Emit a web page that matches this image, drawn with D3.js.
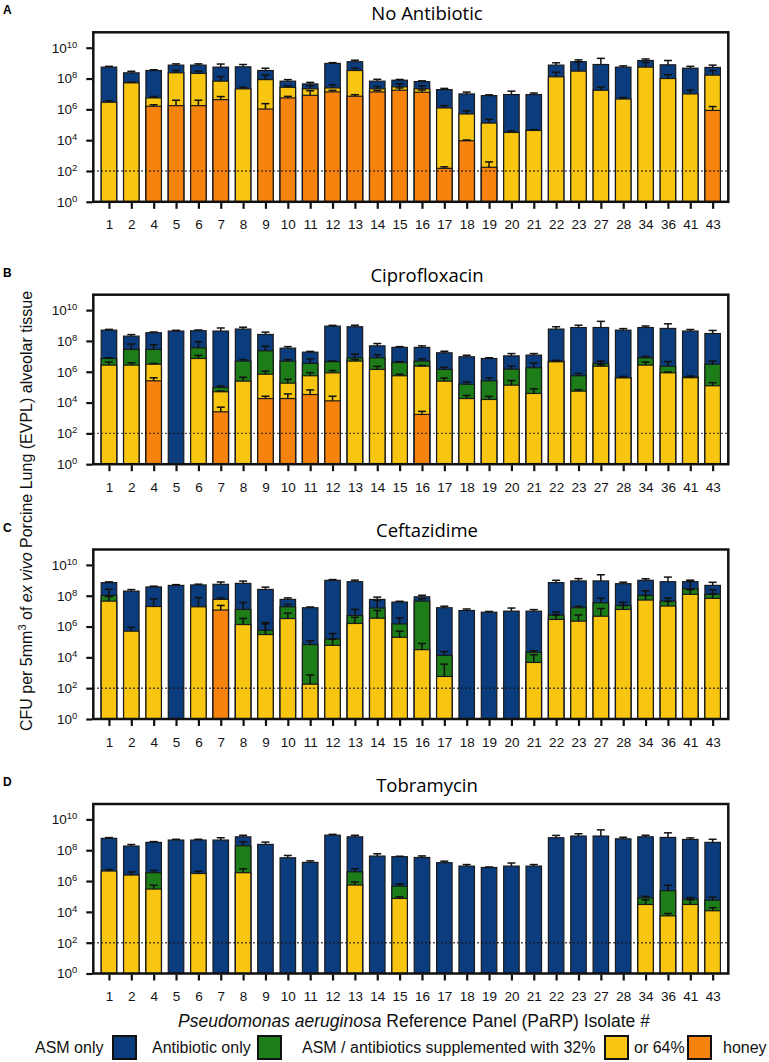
<!DOCTYPE html>
<html>
<head>
<meta charset="utf-8">
<script src="https://cdnjs.cloudflare.com/ajax/libs/d3/7.8.5/d3.min.js"></script>
<style>
  body { margin: 0; background: #fff; }
  svg { font-family: "Liberation Sans", Arial, sans-serif; }
</style>
</head>
<body>
<div id="chart"></div>
<script>
// isolates along x
var isolates = ["1","2","4","5","6","7","8","9","10","11","12","13","14","15","16","17","18","19","20","21","22","23","27","28","34","36","41","43"];

// values are log10(CFU); null = no bar. err = upper whisker length in log10 units

// A - no antibiotic
var asmA  = [8.74,8.37,8.52,8.87,8.87,8.74,8.76,8.52,7.83,7.65,8.98,9.09,7.83,7.89,7.80,7.28,7.00,6.89,6.96,6.96,8.87,9.09,8.91,8.74,9.17,8.89,8.67,8.72];
var h32A  = [6.46,7.72,6.74,8.37,8.33,7.83,7.33,7.93,7.43,7.33,7.39,8.52,7.33,7.46,7.33,6.09,5.70,5.11,4.50,4.63,8.11,8.48,7.24,6.67,8.74,8.00,7.00,8.22];
var h64A  = [null,null,6.20,6.24,6.24,6.63,null,6.02,6.74,6.91,7.13,6.85,7.13,7.24,7.11,2.17,3.96,2.24,null,null,null,null,null,null,null,null,null,5.93];
var asmErrA = [0.05,0.1,0.05,0.08,0.08,0.2,0.15,0.15,0.1,0.1,0.05,0.1,0.12,0.05,0.05,0.08,0.12,0.05,0.22,0.1,0.15,0.12,0.4,0.08,0.1,0.28,0.12,0.15];
var h32ErrA = [0.1,0.05,0.1,0.15,0.15,0.3,0.1,0.3,0.1,0.2,0.2,0.15,0.15,0.2,0.2,0.15,0.2,0.25,0.1,0.05,0.3,0.6,0.2,0.1,0.3,0.25,0.25,0.3];
var h64ErrA = [0,0,0.1,0.35,0.35,0.2,0,0.35,0.1,0.3,0.1,0.1,0.1,0.15,0.15,0.1,0.05,0.35,0,0,0,0,0,0,0,0,0,0.25];

// B - ciprofloxacin
var asmB  = [8.70,8.31,8.53,8.64,8.66,8.64,8.77,8.42,7.53,7.27,8.96,8.92,7.68,7.58,7.58,7.23,6.97,6.86,7.03,7.08,8.77,8.87,8.87,8.70,8.87,8.81,8.64,8.48];
var abxB  = [6.86,7.45,7.45,null,7.55,4.98,6.69,7.36,6.69,6.54,6.65,6.90,6.90,6.60,6.69,6.15,5.19,5.41,6.17,6.26,6.69,5.74,6.54,5.62,6.90,6.36,5.67,6.49];
var h32B  = [6.43,6.43,6.49,null,6.86,4.70,5.39,5.84,5.26,5.74,5.93,6.69,6.15,5.74,6.36,5.39,4.26,4.20,5.13,4.59,6.65,4.74,6.36,5.60,6.43,5.93,5.61,5.09];
var h64B  = [null,null,5.41,null,null,3.40,null,4.26,4.26,4.52,4.11,null,null,null,3.23,null,null,null,null,null,null,null,null,null,null,null,null,null];
var asmErrB = [0.05,0.1,0.05,0.05,0.05,0.2,0.12,0.15,0.1,0.05,0.05,0.1,0.15,0.05,0.1,0.1,0.1,0.05,0.15,0.1,0.15,0.15,0.4,0.1,0.1,0.3,0.1,0.2];
var abxErrB = [0.05,0.35,0.3,0,0.4,0.1,0.1,0.3,0.1,0.3,0.05,0.25,0.2,0.05,0.15,0.15,0.15,0.2,0.2,0.3,0.05,0.15,0.15,0.05,0.1,0.3,0.05,0.2];
var h32ErrB = [0.2,0.15,0.05,0,0.2,0.05,0.25,0.2,0.25,0.2,0.15,0.1,0.2,0.1,0.05,0.2,0.2,0.2,0.3,0.3,0.05,0.1,0.1,0.1,0.2,0.05,0.05,0.2];
var h64ErrB = [0,0,0.2,0,0,0.3,0,0.15,0.3,0.3,0.3,0,0,0,0.2,0,0,0,0,0,0,0,0,0,0,0,0,0];

// C - ceftazidime
var asmC  = [8.85,8.30,8.57,8.67,8.70,8.74,8.80,8.41,7.76,7.22,9.00,8.91,7.76,7.59,7.93,7.22,7.04,6.93,7.00,7.00,8.85,8.96,8.96,8.78,9.00,8.91,8.91,8.67];
var abxC  = [8.02,null,null,null,null,null,7.11,5.76,7.28,4.83,5.20,6.72,7.20,6.17,7.65,4.13,null,null,null,4.33,6.74,7.22,7.54,7.37,8.02,7.65,8.46,8.09];
var h32C  = [7.65,5.70,7.30,null,7.28,7.76,6.13,5.48,6.52,2.26,4.78,6.20,6.54,5.30,4.50,2.76,null,null,null,3.67,6.46,6.35,6.67,7.11,7.72,7.33,8.09,7.83];
var h64C  = [null,null,null,null,null,7.07,null,null,null,null,null,null,null,null,null,null,null,null,null,null,null,null,null,null,null,null,null,null];
var asmErrC = [0.05,0.1,0.05,0.05,0.05,0.15,0.15,0.15,0.1,0.05,0.05,0.1,0.15,0.05,0.1,0.1,0.1,0.05,0.2,0.1,0.15,0.15,0.4,0.1,0.1,0.3,0.1,0.2];
var abxErrC = [0.4,0,0,0,0,0,0.45,0.5,0.15,0.25,0.35,0.4,0.5,0.4,0.15,0.25,0,0,0,0.1,0.2,0.1,0.3,0.2,0.3,0.2,0.5,0.3];
var h32ErrC = [0.3,0.25,0.5,0,0.6,0.1,0.4,0.7,0.35,0.6,0.4,0.4,0.5,0.4,0.4,0.8,0,0,0,0.5,0.3,0.4,0.5,0.25,0.3,0.3,0.3,0.3];
var h64ErrC = [0,0,0,0,0,0.3,0,0,0,0,0,0,0,0,0,0,0,0,0,0,0,0,0,0,0,0,0,0];

// D - tobramycin
var asmD  = [8.77,8.27,8.51,8.66,8.66,8.66,8.87,8.38,7.51,7.21,8.98,8.87,7.62,7.58,7.53,7.19,6.97,6.88,6.97,6.97,8.81,8.92,8.92,8.74,8.87,8.83,8.70,8.51];
var abxD  = [null,null,6.54,null,null,null,8.29,null,null,null,null,6.60,null,5.67,null,null,null,null,null,null,null,null,null,null,4.91,5.37,4.83,4.76];
var h32D  = [6.65,6.39,5.48,null,6.49,null,6.54,null,null,null,null,5.74,null,4.87,null,null,null,null,null,null,null,null,null,null,4.48,3.74,4.48,4.07];
var asmErrD = [0.05,0.1,0.05,0.05,0.05,0.15,0.1,0.15,0.15,0.1,0.05,0.1,0.15,0.03,0.1,0.1,0.1,0.03,0.2,0.1,0.15,0.15,0.4,0.1,0.1,0.3,0.1,0.2];
var abxErrD = [0,0,0.15,0,0,0,0.25,0,0,0,0,0.2,0,0.15,0,0,0,0,0,0,0,0,0,0,0.1,0.35,0.1,0.2];
var h32ErrD = [0.1,0.2,0.25,0,0.15,0,0.25,0,0,0,0,0.2,0,0.1,0,0,0,0,0,0,0,0,0,0,0.3,0.15,0.3,0.2];

var yTicks = [1, 1e2, 1e4, 1e6, 1e8, 1e10];
var legendLabels = ["ASM only", "Antibiotic only", "ASM / antibiotics supplemented with 32%", "or 64%", "honey"];

var colors = ["#0b3d7e", "#1c7d19", "#f8c511", "#f7830f"];

var width = 769, height = 1062;
var left = 93.3, right = 728.3, plotH = 169.5;

var svg = d3.select("#chart").append("svg")
    .attr("width", width)
    .attr("height", height);

var panels = [
    {letter: "A", title: "No Antibiotic", top: 32.3, vals: [asmA, null, h32A, h64A], errs: [asmErrA, null, h32ErrA, h64ErrA]},
    {letter: "B", title: "Ciprofloxacin", top: 294.7, vals: [asmB, abxB, h32B, h64B], errs: [asmErrB, abxErrB, h32ErrB, h64ErrB]},
    {letter: "C", title: "Ceftazidime", top: 549.5, vals: [asmC, abxC, h32C, h64C], errs: [asmErrC, abxErrC, h32ErrC, h64ErrC]},
    {letter: "D", title: "Tobramycin", top: 804, vals: [asmD, abxD, h32D, null], errs: [asmErrD, abxErrD, h32ErrD, null]}
];

var x = d3.scalePoint()
    .domain(isolates)
    .range([left, right])
    .padding(0.7);
var bw = 15.5;

panels.forEach(function(p){
    var bottom = p.top + plotH;
    var y = d3.scaleLog().domain([1, 1e11]).range([bottom, p.top]);
    var g = svg.append("g");

    // panel letter + title
    svg.append("text")
        .attr("x", 3).attr("y", p.top - 18)
        .attr("font-size", 12).attr("font-weight", "bold")
        .text(p.letter);
    svg.append("text")
        .attr("x", 427).attr("y", p.top - 12.5)
        .attr("text-anchor", "middle")
        .attr("font-family", "'Open Sans', sans-serif")
        .attr("font-size", 18.5)
        .text(p.title);

    // bars, back to front
    p.vals.forEach(function(arr, s){
        if (!arr) return;
        var errs = p.errs[s];
        var data = arr.map(function(v, i){ return {iso: isolates[i], v: v, e: errs[i]}; })
                      .filter(function(d){ return d.v != null; });

        var sg = g.append("g");
        sg.selectAll("rect")
            .data(data)
            .enter()
            .append("rect")
            .attr("x", function(d){ return x(d.iso) - bw/2; })
            .attr("y", function(d){ return y(Math.pow(10, d.v)); })
            .attr("width", bw)
            .attr("height", function(d){ return bottom - y(Math.pow(10, d.v)); })
            .attr("fill", colors[s])
            .attr("stroke", "#1a1a1a")
            .attr("stroke-width", 1.2);

        var eb = sg.selectAll(".err")
            .data(data.filter(function(d){ return d.e > 0; }))
            .enter()
            .append("g")
            .attr("class", "err");
        eb.append("line")
            .attr("x1", function(d){ return x(d.iso); })
            .attr("x2", function(d){ return x(d.iso); })
            .attr("y1", function(d){ return y(Math.pow(10, d.v)); })
            .attr("y2", function(d){ return y(Math.pow(10, d.v + d.e)); })
            .attr("stroke", "#111").attr("stroke-width", 1.5);
        eb.append("line")
            .attr("x1", function(d){ return x(d.iso) - 4; })
            .attr("x2", function(d){ return x(d.iso) + 4; })
            .attr("y1", function(d){ return y(Math.pow(10, d.v + d.e)); })
            .attr("y2", function(d){ return y(Math.pow(10, d.v + d.e)); })
            .attr("stroke", "#111").attr("stroke-width", 1.5);
    });

    // detection limit
    g.append("line")
        .attr("x1", left).attr("x2", right)
        .attr("y1", y(100)).attr("y2", y(100))
        .attr("stroke", "#111")
        .attr("stroke-width", 1.4)
        .attr("stroke-dasharray", "1.4,2.6");

    // frame
    g.append("rect")
        .attr("x", left).attr("y", p.top)
        .attr("width", right - left).attr("height", plotH)
        .attr("fill", "none")
        .attr("stroke", "#111")
        .attr("stroke-width", 2.5);

    // y axis
    var yAxis = g.append("g")
        .attr("transform", "translate(" + (left - 1) + ",0)")
        .call(d3.axisLeft(y).tickValues(yTicks).tickSize(6).tickPadding(9).tickFormat(function(){ return ""; }));
    yAxis.select(".domain").remove();
    yAxis.selectAll(".tick line").attr("stroke", "#111").attr("stroke-width", 2.2);
    yAxis.selectAll(".tick text")
        .attr("font-size", 13.5)
        .attr("font-family", "'Liberation Sans', Arial, sans-serif")
        .attr("fill", "#111")
        .each(function(d){
            var t = d3.select(this);
            t.append("tspan").text("10");
            t.append("tspan").attr("dy", "-5").attr("font-size", 9.5).text(Math.round(Math.log10(d)));
        });

    // x axis
    var xAxis = g.append("g")
        .attr("transform", "translate(0," + (bottom + 1) + ")")
        .call(d3.axisBottom(x).tickSize(6).tickPadding(11));
    xAxis.select(".domain").remove();
    xAxis.selectAll(".tick line").attr("stroke", "#111").attr("stroke-width", 2.2);
    xAxis.selectAll(".tick text")
        .attr("font-size", 13.5)
        .attr("font-family", "'Liberation Sans', Arial, sans-serif")
        .attr("fill", "#111");
});

// y axis title
var yt = svg.append("text")
    .attr("transform", "translate(32,511) rotate(-90)")
    .attr("text-anchor", "middle")
    .attr("font-size", 16)
    .attr("fill", "#111");
yt.append("tspan").text("CFU per 5mm");
yt.append("tspan").attr("dy", -6).attr("font-size", 11).text("3");
yt.append("tspan").attr("dy", 6).text(" of ");
yt.append("tspan").attr("font-style", "italic").text("ex vivo");
yt.append("tspan").text(" Porcine Lung (EVPL) alveolar tissue");

// x axis title
var xt = svg.append("text")
    .attr("x", 414).attr("y", 1027)
    .attr("text-anchor", "middle")
    .attr("font-size", 17.5)
    .attr("fill", "#111");
xt.append("tspan").attr("font-style", "italic").text("Pseudomonas aeruginosa");
xt.append("tspan").text(" Reference Panel (PaRP) Isolate #");

// legend: label then box
var legItems = [
    {label: legendLabels[0], tx: 35, bx: 113, c: colors[0]},
    {label: legendLabels[1], tx: 152, bx: 258, c: colors[1]},
    {label: legendLabels[2], tx: 302, bx: 605, c: colors[2]},
    {label: legendLabels[3], tx: 634, bx: 688, c: colors[3]},
    {label: legendLabels[4], tx: 723, bx: null, c: null}
];
var leg = svg.append("g");
legItems.forEach(function(d){
    leg.append("text")
        .attr("x", d.tx).attr("y", 1053)
        .attr("font-size", 16)
        .attr("fill", "#111")
        .text(d.label);
    if (d.bx != null) {
        leg.append("rect")
            .attr("x", d.bx).attr("y", 1036)
            .attr("width", 23).attr("height", 23)
            .attr("fill", d.c)
            .attr("stroke", "#111")
            .attr("stroke-width", 2);
    }
});
</script>
</body>
</html>
